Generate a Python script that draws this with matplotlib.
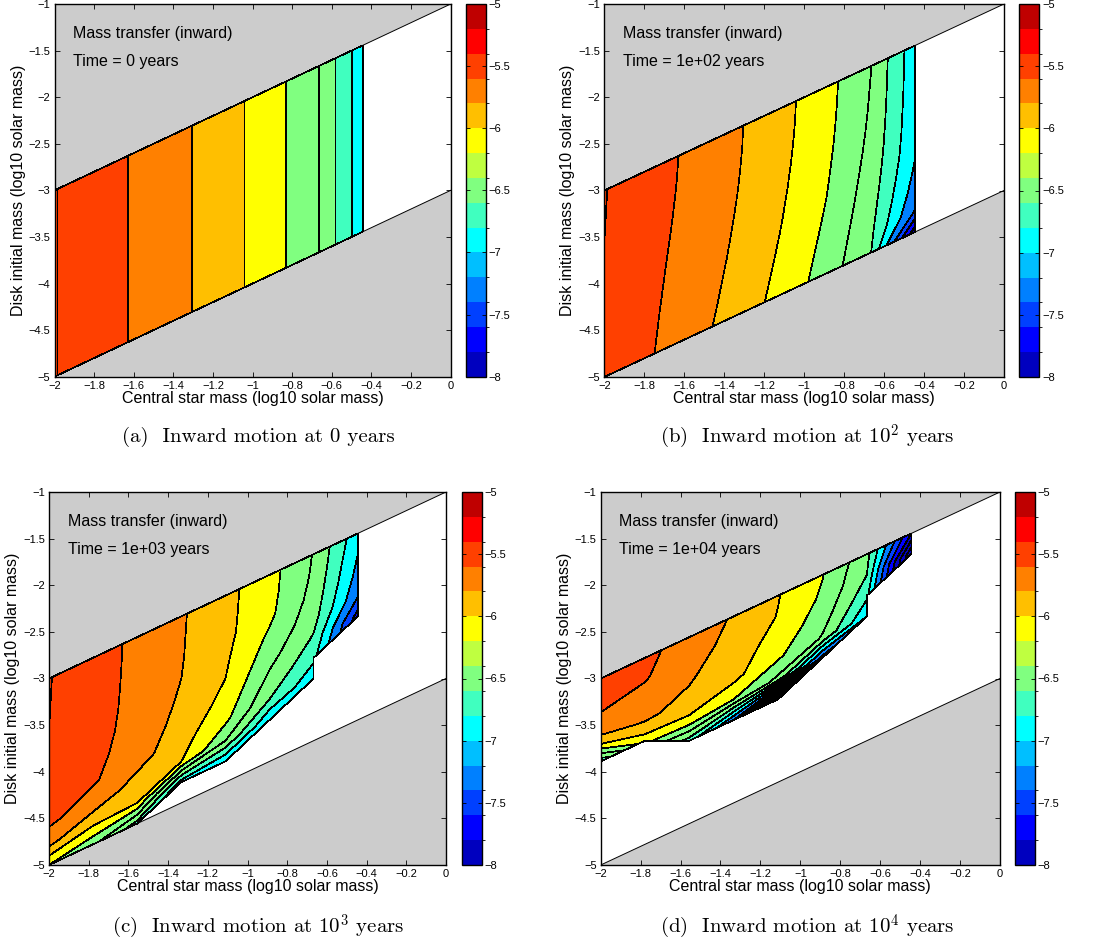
import numpy as np
import matplotlib
matplotlib.use("Agg")
import matplotlib.pyplot as plt
from matplotlib.colors import ListedColormap, BoundaryNorm
from matplotlib.cm import ScalarMappable
from matplotlib.ticker import FuncFormatter

plt.rcParams['font.family'] = ['Liberation Sans', 'DejaVu Sans']
plt.rcParams['mathtext.fontset'] = 'cm'

nan = np.nan

# grid: log10 central star mass, log10 (disk mass / star mass)
star_mass = [-2.0, -1.778, -1.556, -1.333, -1.111, -0.889, -0.667, -0.444]
disk_ratio = [-3.0, -2.778, -2.556, -2.333, -2.111, -1.889, -1.667, -1.444, -1.222, -1.0]

# log10 mass transfer rate, rows = disk_ratio (bottom -> top), cols = star_mass
rate_0 = [
    [-5.39, -5.54, -5.63, -5.78, -5.94, -6.13, -6.395, -6.93],
    [-5.39, -5.54, -5.63, -5.78, -5.94, -6.13, -6.395, -6.93],
    [-5.39, -5.54, -5.63, -5.78, -5.94, -6.13, -6.395, -6.93],
    [-5.39, -5.54, -5.63, -5.78, -5.94, -6.13, -6.395, -6.93],
    [-5.39, -5.54, -5.63, -5.78, -5.94, -6.13, -6.395, -6.93],
    [-5.39, -5.54, -5.63, -5.78, -5.94, -6.13, -6.395, -6.93],
    [-5.39, -5.54, -5.63, -5.78, -5.94, -6.13, -6.395, -6.93],
    [-5.39, -5.54, -5.63, -5.78, -5.94, -6.13, -6.395, -6.93],
    [-5.39, -5.54, -5.63, -5.78, -5.94, -6.13, -6.395, -6.93],
    [-5.39, -5.54, -5.63, -5.78, -5.94, -6.13, -6.395, -6.93],
]

rate_1e2 = [
    [-5.430, -5.580, -5.730, -5.890, -6.070, -6.290, -6.590, -7.75],
    [-5.424, -5.573, -5.713, -5.871, -6.048, -6.263, -6.558, -7.22],
    [-5.419, -5.567, -5.697, -5.854, -6.027, -6.237, -6.527, -7.10],
    [-5.415, -5.561, -5.682, -5.837, -6.008, -6.213, -6.499, -7.03],
    [-5.411, -5.556, -5.669, -5.823, -5.991, -6.192, -6.474, -6.98],
    [-5.407, -5.551, -5.657, -5.810, -5.975, -6.173, -6.451, -6.96],
    [-5.403, -5.547, -5.647, -5.799, -5.962, -6.157, -6.432, -6.95],
    [-5.398, -5.544, -5.639, -5.790, -5.952, -6.144, -6.417, -6.94],
    [-5.394, -5.541, -5.633, -5.783, -5.944, -6.135, -6.406, -6.935],
    [-5.390, -5.540, -5.630, -5.780, -5.940, -6.130, -6.395, -6.93],
]

rate_1e3 = [
    [-6.20, -6.35, -6.70, nan, nan, nan, nan, nan],
    [-5.75, -5.96, -6.00, -6.90, -7.00, nan, nan, nan],
    [-5.57, -5.68, -5.88, -6.00, -6.40, -7.00, nan, nan],
    [-5.50, -5.58, -5.72, -5.93, -6.15, -6.60, -6.95, nan],
    [-5.45, -5.555, -5.68, -5.87, -6.06, -6.45, -6.75, nan],
    [-5.42, -5.55, -5.65, -5.83, -6.00, -6.33, -6.62, -7.50],
    [-5.402, -5.546, -5.64, -5.80, -5.97, -6.24, -6.52, -7.18],
    [-5.398, -5.544, -5.635, -5.79, -5.95, -6.16, -6.47, -7.07],
    [-5.394, -5.542, -5.632, -5.785, -5.945, -6.14, -6.43, -7.00],
    [-5.39, -5.54, -5.63, -5.78, -5.94, -6.13, -6.41, -6.93],
]

rate_1e4 = [
    [nan, nan, nan, nan, nan, nan, nan, nan],
    [nan, nan, nan, nan, nan, nan, nan, nan],
    [nan, nan, nan, nan, nan, nan, nan, nan],
    [nan, nan, nan, nan, nan, nan, nan, nan],
    [nan, nan, -6.70, -7.20, -8.40, nan, nan, nan],
    [-6.75, -6.10, -6.05, -6.20, -6.45, -7.30, nan, nan],
    [-5.86, -5.78, -5.84, -5.95, -6.17, -6.42, -7.00, nan],
    [-5.64, -5.67, -5.78, -5.90, -6.08, -6.30, -6.75, nan],
    [-5.53, -5.585, -5.72, -5.86, -6.01, -6.23, -6.60, -8.20],
    [-5.45, -5.55, -5.685, -5.82, -5.99, -6.19, -6.54, -7.60],
]

time_labels = ['0', '1e+02', '1e+03', '1e+04']
captions = ['(a)  Inward motion at 0 years',
            r'(b)  Inward motion at $10^2$ years',
            r'(c)  Inward motion at $10^3$ years',
            r'(d)  Inward motion at $10^4$ years']
rates = [rate_0, rate_1e2, rate_1e3, rate_1e4]

# colour bar bins, -8 .. -5 in 0.2 steps
cbar_colors = ['#0000BF', '#0000FF', '#0040FF', '#0080FF', '#00BFFF',
               '#00FFFF', '#40FFBF', '#80FF80', '#BFFF40', '#FFFF00',
               '#FFBF00', '#FF8000', '#FF4000', '#FF0000', '#BF0000']
cbar_levels = np.round(np.arange(-8.0, -4.99, 0.2), 2)
# contour levels and fill colour of each band (lowest bands clip to dark blue)
levels = np.round(np.arange(-10.0, -4.99, 0.2), 2)
band_colors = ['#0000BF'] * 10 + ['#0000BF', '#0000BF', '#0000FF', '#0040FF', '#0080FF',
                                  '#00FFFF', '#40FFBF', '#80FF80', '#80FF80', '#FFFF00',
                                  '#FFBF00', '#FF8000', '#FF4000', '#FF4000', '#FF0000']

W, H = 1097.0, 943.0
ax_px = [(54.5, 4, 450.7, 376.7), (604.3, 4, 1004, 377),
         (49, 492, 446, 865), (600.7, 492, 1000, 865)]
cb_px = [(465.7, 486), (1019.3, 1039.3), (461.7, 481.7), (1015, 1035)]
cap_xy = [(258.8, 437), (807, 437), (258.6, 926.5), (806.8, 926.5)]

fmt = FuncFormatter(lambda v, p: ('%g' % (round(v, 6) + 0.0)).replace('-', '\u2212'))

X, R = np.meshgrid(star_mass, disk_ratio)
Y = X + R

fig = plt.figure(figsize=(W / 100, H / 100), dpi=100)

for i in range(4):
    l, t, r, b = ax_px[i]
    ax = fig.add_axes([l / W, 1 - b / H, (r - l) / W, (b - t) / H])
    ax.set_facecolor('#CCCCCC')
    ax.fill([-2, 0, 0, -2], [-3, -1, -3, -5], color='white', lw=0, zorder=0.5)
    ax.plot([-2, 0], [-3, -1], color='k', lw=0.7, zorder=1)
    ax.plot([-2, 0], [-5, -3], color='k', lw=0.7, zorder=1)

    Z = np.ma.masked_invalid(np.array(rates[i]))
    cs = ax.contourf(X, Y, Z, levels=levels, colors=band_colors, zorder=2)
    cs.set_edgecolor('k')
    cs.set_linewidth(0.5)

    ax.set_xlim(-2, 0)
    ax.set_ylim(-5, -1)
    ax.set_xticks(np.round(np.arange(-2.0, 0.01, 0.2), 1))
    ax.set_yticks(np.arange(-5.0, -0.99, 0.5))
    ax.xaxis.set_major_formatter(fmt)
    ax.yaxis.set_major_formatter(fmt)
    ax.tick_params(direction='in', length=3.5, width=0.6, labelsize=8,
                   top=True, right=True, pad=3)
    for s in ax.spines.values():
        s.set_linewidth(1.0)
    ax.set_xlabel('Central star mass (log10 solar mass)', fontsize=11.5, labelpad=0)
    ax.set_ylabel('Disk initial mass (log10 solar mass)', fontsize=11.5, labelpad=2)

    ax.text(0.047, 0.922, 'Mass transfer (inward)', transform=ax.transAxes,
            va='center', fontsize=11.5, zorder=5)
    ax.text(0.047, 0.847, 'Time = %s years' % time_labels[i], transform=ax.transAxes,
            va='center', fontsize=11.5, zorder=5)

    cl, cr = cb_px[i]
    cax = fig.add_axes([cl / W, 1 - b / H, (cr - cl) / W, (b - t) / H])
    sm = ScalarMappable(norm=BoundaryNorm(cbar_levels, len(cbar_colors)),
                        cmap=ListedColormap(cbar_colors))
    cb = fig.colorbar(sm, cax=cax, ticks=np.arange(-8.0, -4.99, 0.5))
    cb.ax.yaxis.set_major_formatter(fmt)
    cb.ax.tick_params(direction='in', length=3, width=0.6, labelsize=8,
                      left=True, right=True, pad=2)
    cb.outline.set_linewidth(1.0)

    cx, cy = cap_xy[i]
    fig.text(cx / W, 1 - cy / H, captions[i], ha='center', va='center',
             family='cmr10', fontsize=15)

fig.savefig('out.png', dpi=100)
